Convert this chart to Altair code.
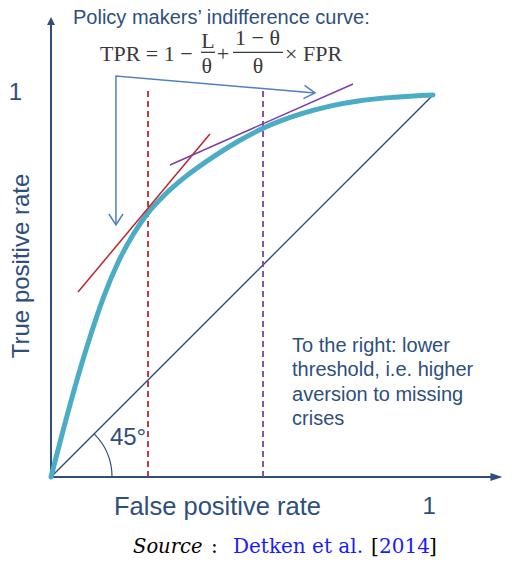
import math
import altair as alt
import pandas as pd

# ---------------- data ----------------
# ROC curve (false positive rate vs true positive rate)
roc_fpr = [0.0, 0.0288, 0.0673, 0.1021, 0.1369, 0.1754, 0.2147, 0.2539, 0.2984, 0.3455, 0.4267,
           0.4948, 0.5550, 0.6518, 0.7304, 0.8089, 0.9005, 1.0]
roc_tpr = [0.0, 0.1110, 0.2516, 0.3665, 0.4691, 0.5615, 0.6343, 0.6914, 0.7395, 0.7809, 0.8393,
           0.8814, 0.9128, 0.9497, 0.9709, 0.9851, 0.9942, 1.0]
# 45 degree line
diag_fpr = [0.0, 1.0]
diag_tpr = [0.0, 1.0]
# thresholds (dashed verticals)
threshold_fpr = [0.254, 0.555]
threshold_top = [1.018, 1.018]
threshold_names = ["low", "high"]
# indifference curves (tangents)
red_tan_fpr = [0.0707, 0.416]
red_tan_tpr = [0.484, 0.898]
purple_tan_fpr = [0.3115, 0.7906]
purple_tan_tpr = [0.8168, 1.0288]

# ---------------- styles ----------------
NAVY = "#2e4f7c"
CYAN = "#4bacc6"
RED = "#b8282c"
PURPLE = "#7a3fa8"
ARROW_BLUE = "#4f7fc0"
FORMULA = "#3a3a3a"
SANS = "Liberation Sans"
SERIF = "Liberation Serif"
SRC_SERIF = "DejaVu Serif"

xs = alt.Scale(domain=[-0.1126, 1.1833], nice=False, zero=False)
ys = alt.Scale(domain=[-0.2173, 1.2277], nice=False, zero=False)


def X(f="x"):
    return alt.X(f"{f}:Q", scale=xs, axis=None)


def Y(f="y"):
    return alt.Y(f"{f}:Q", scale=ys, axis=None)


layers = []

# axes lines
axes_df = pd.DataFrame({"x": [0.0, 0.0, 0.0, 1.16], "y": [1.186, 0.0, 0.0, 0.0],
                        "g": ["y", "y", "x", "x"], "i": [0, 1, 0, 1]})
layers.append(alt.Chart(axes_df).mark_line(color=NAVY, strokeWidth=2).encode(
    x=X(), y=Y(), detail="g:N", order="i:Q"))
# arrow heads of axes
layers.append(alt.Chart(pd.DataFrame({"x": [0.0], "y": [1.1937]})).mark_point(
    shape="M0,-1L1,1L-1,1Z", filled=True, size=64, color=NAVY, opacity=1).encode(x=X(), y=Y()))
layers.append(alt.Chart(pd.DataFrame({"x": [1.1662], "y": [0.0]})).mark_point(
    shape="M1,0L-1,-0.67L-1,0.67Z", filled=True, size=144, color=NAVY, opacity=1).encode(x=X(), y=Y()))

# diagonal
layers.append(alt.Chart(pd.DataFrame({"x": diag_fpr, "y": diag_tpr})).mark_line(
    color=NAVY, strokeWidth=1.4).encode(x=X(), y=Y()))

# 45 degree arc
layers.append(alt.Chart(pd.DataFrame({"x": [0.0], "y": [0.0]})).mark_arc(
    theta=math.pi / 4, theta2=math.pi / 2, radius=61.6, radius2=60.4, color=NAVY).encode(x=X(), y=Y()))

# dashed threshold lines
thr_df = pd.DataFrame({"x": threshold_fpr, "y0": [0.0, 0.0], "y1": threshold_top, "n": threshold_names})
layers.append(alt.Chart(thr_df).mark_rule(strokeDash=[6, 4], strokeWidth=1.8).encode(
    x=X(), y=Y("y0"), y2="y1:Q",
    color=alt.Color("n:N", scale=alt.Scale(domain=threshold_names, range=[RED, PURPLE]), legend=None)))

# ROC curve
layers.append(alt.Chart(pd.DataFrame({"x": roc_fpr, "y": roc_tpr})).mark_line(
    color=CYAN, strokeWidth=5, interpolate="monotone", strokeCap="round").encode(x=X(), y=Y()))

# tangents
layers.append(alt.Chart(pd.DataFrame({"x": red_tan_fpr, "y": red_tan_tpr})).mark_line(
    color=RED, strokeWidth=1.5).encode(x=X(), y=Y()))
layers.append(alt.Chart(pd.DataFrame({"x": purple_tan_fpr, "y": purple_tan_tpr})).mark_line(
    color=PURPLE, strokeWidth=1.5).encode(x=X(), y=Y()))

# bracket arrow from the formula
br_df = pd.DataFrame({"x": [0.170, 0.170, 0.691], "y": [0.6597, 1.0497, 1.0052], "i": [0, 1, 2]})
layers.append(alt.Chart(br_df).mark_line(color=ARROW_BLUE, strokeWidth=1.5).encode(
    x=X(), y=Y(), order="i:Q"))
layers.append(alt.Chart(pd.DataFrame({"x": [0.170], "y": [0.6597]})).mark_point(
    shape="M-1,-0.64L0,0L-1,0.64", filled=False, size=484, strokeWidth=1.5, angle=90,
    color=ARROW_BLUE, opacity=1).encode(x=X(), y=Y()))
layers.append(alt.Chart(pd.DataFrame({"x": [0.691], "y": [1.0052]})).mark_point(
    shape="M-1,-0.6L0,0L-1,0.6", filled=False, size=484, strokeWidth=1.5, angle=5,
    color=ARROW_BLUE, opacity=1).encode(x=X(), y=Y()))


def text_layer(rows, **kw):
    df = pd.DataFrame(rows, columns=["x", "y", "t"])
    return alt.Chart(df).mark_text(**kw).encode(x=X(), y=Y(), text="t:N")


# axis labels
layers.append(text_layer([[0.4359, -0.0785, "False positive rate"]], font=SANS, fontSize=25.5,
                         color=NAVY, align="center", baseline="middle"))
layers.append(text_layer([[-0.0759, 0.5524, "True positive rate"]], font=SANS, fontSize=24,
                         color=NAVY, align="center", baseline="middle", angle=270))
layers.append(text_layer([[0.99, -0.0785, "1"], [-0.0930, 1.005, "1"]], font=SANS, fontSize=24,
                         color=NAVY, align="center", baseline="middle"))
layers.append(text_layer([[0.2016, 0.1021, "45°"]], font=SANS, fontSize=24,
                         color=NAVY, align="center", baseline="middle"))
layers.append(text_layer([[0.631, 0.328, "To the right: lower\nthreshold, i.e. higher\naversion to missing\ncrises"]],
                         font=SANS, fontSize=20, color=NAVY, align="left", baseline="alphabetic",
                         lineBreak="\n", lineHeight=24.5))
layers.append(text_layer([[0.0576, 1.1858, "Policy makers’ indifference curve:"]], font=SANS, fontSize=20,
                         color=NAVY, align="left", baseline="alphabetic"))

# formula
layers.append(text_layer([[0.1283, 1.089, "TPR = 1 −"], [0.6126, 1.089, "× FPR"]], font=SERIF, fontSize=22,
                         color=FORMULA, align="left", baseline="alphabetic"))
layers.append(text_layer([[0.4503, 1.089, "+"], [0.411, 1.1238, "L"], [0.4076, 1.0584, "θ"],
                          [0.5406, 1.1309, "1 − θ"], [0.5419, 1.0584, "θ"]], font=SERIF, fontSize=22,
                         color=FORMULA, align="center", baseline="alphabetic"))
bars_df = pd.DataFrame({"x": [0.3927, 0.4764], "x2": [0.4293, 0.6073], "y": [1.1117, 1.1117]})
layers.append(alt.Chart(bars_df).mark_rule(color=FORMULA, strokeWidth=1.3).encode(
    x=X(), x2="x2:Q", y=Y()))

# source line
layers.append(text_layer([[0.2147, -0.199, "Source"]], font=SRC_SERIF, fontSize=19.5, fontStyle="italic",
                         color="black", align="left", baseline="alphabetic"))
layers.append(text_layer([[0.4188, -0.199, ":"], [0.8377, -0.199, "["], [0.9895, -0.199, "]"]], font=SRC_SERIF,
                         fontSize=20, color="black", align="left", baseline="alphabetic"))
layers.append(text_layer([[0.4764, -0.199, "Detken et al."], [0.8586, -0.199, "2014"]], font=SRC_SERIF,
                         fontSize=20, color="#1a1aff", align="left", baseline="alphabetic"))

chart = alt.layer(*layers).properties(
    width=495, height=552, padding=0, autosize=alt.AutoSizeParams(type="none"),
    background="white"
).configure_view(stroke=None)

chart.save("out.html", embed_options={"renderer": "svg", "actions": False})
